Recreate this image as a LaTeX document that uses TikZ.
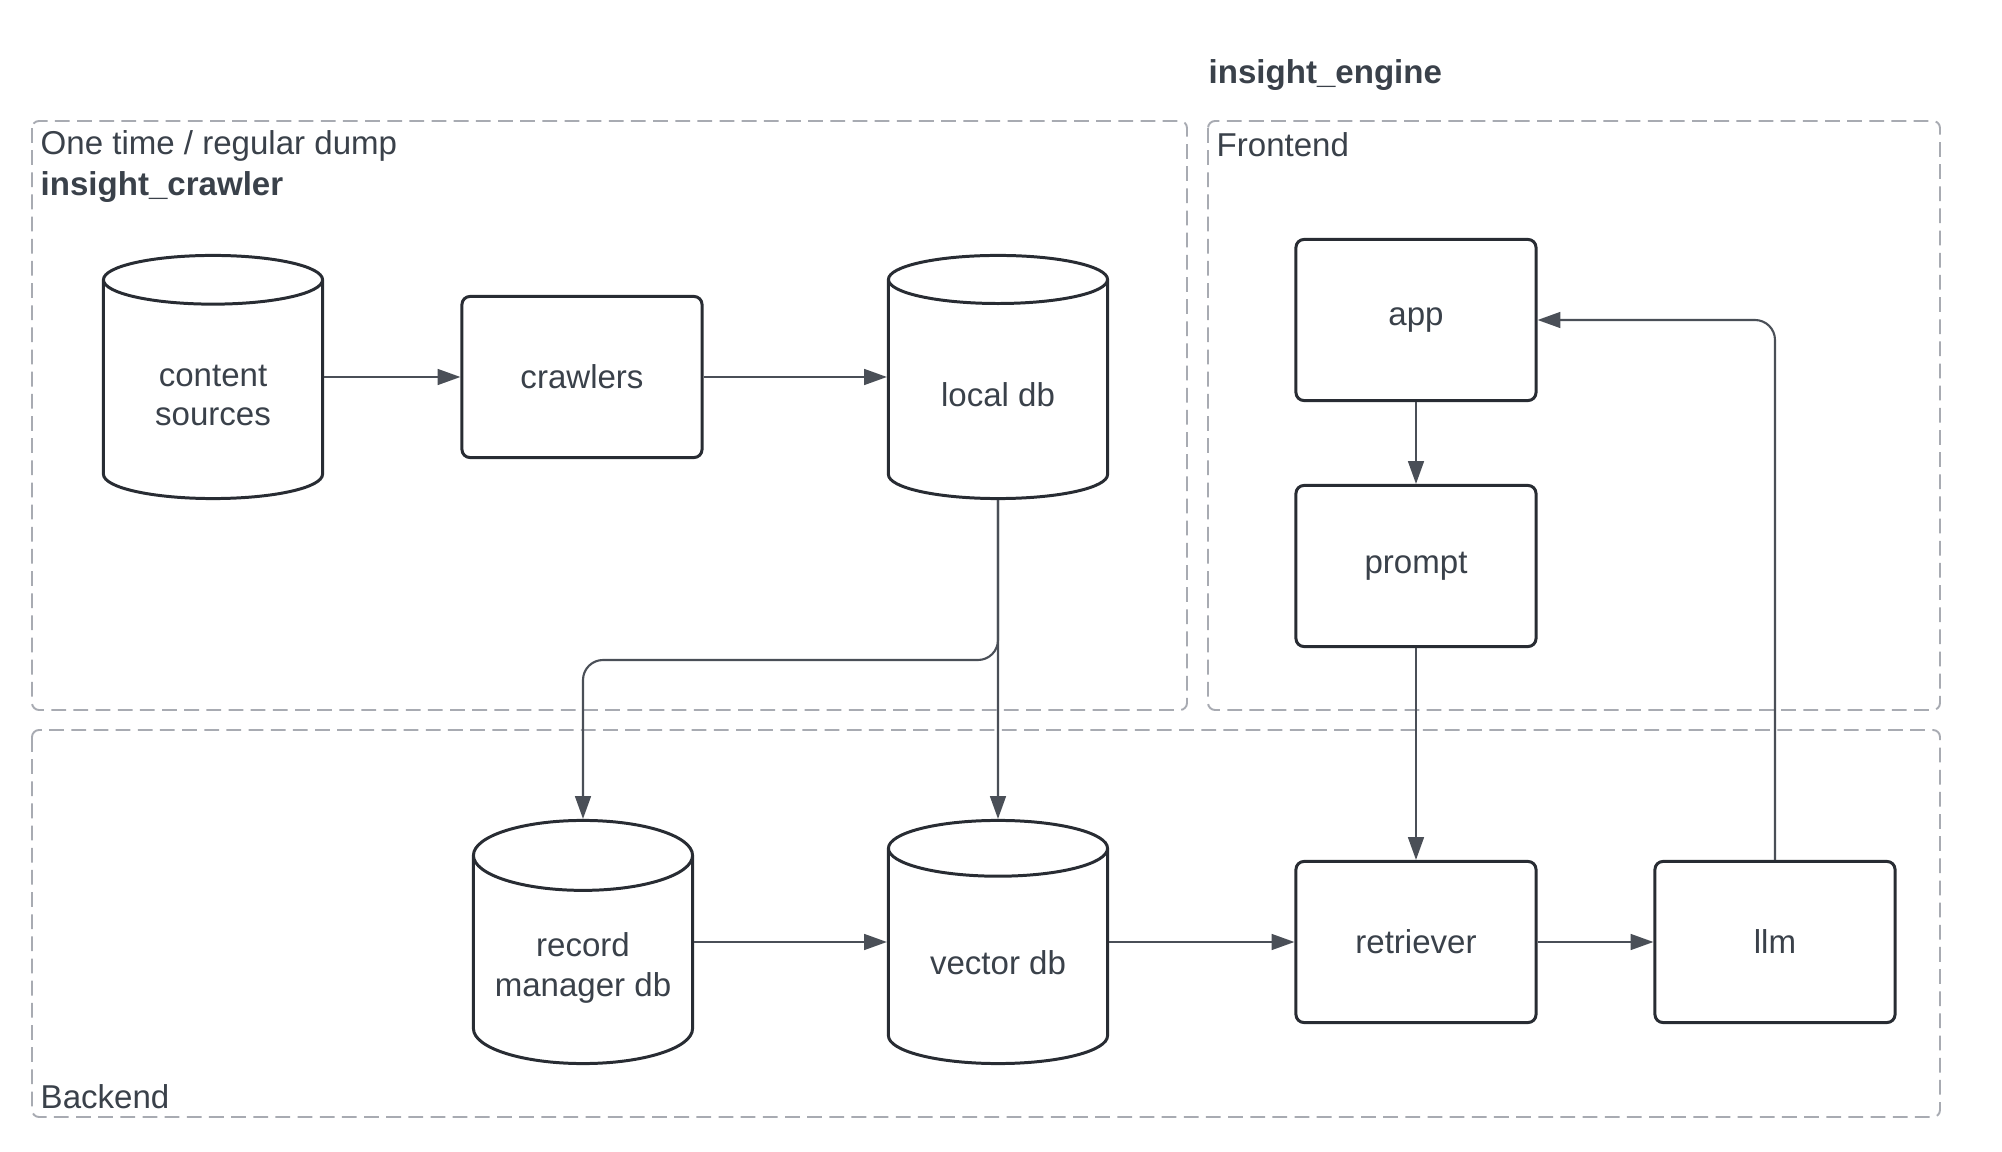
\documentclass[tikz,border=0pt]{standalone}
\usepackage{fontspec}
\setmainfont{Liberation Sans}
\usetikzlibrary{calc, positioning, arrows.meta, shapes.geometric}

\definecolor{inkgrey}{HTML}{3A414A}
\definecolor{linegrey}{HTML}{282C33}
\definecolor{conngrey}{HTML}{4A4F57}
\definecolor{dashgrey}{HTML}{A8ABB2}

\tikzset{
  group/.style={draw=dashgrey, line width=0.55pt, dash pattern=on 4.2pt off 2.1pt, rounded corners=2pt},
  grouplabel/.style={anchor=west, inner sep=0pt, text=inkgrey},
  block/.style={draw=linegrey, line width=0.85pt, rounded corners=2.3pt, minimum width=2.4cm, minimum height=1.61cm, text=inkgrey},
  dbcyl/.style={draw=linegrey, line width=0.85pt, cylinder, shape border rotate=90, aspect=0.35, anchor=shape center, minimum width=2.19cm, minimum height=2.43cm, text=inkgrey, align=center},
  conn/.style={draw=conngrey, line width=0.6pt, -{Triangle[length=6.5pt,width=4.5pt]}, rounded corners=0.2cm}
}

\begin{document}
\begin{tikzpicture}[x=0.01cm, y=-0.01cm, every node/.style={font=\fontsize{9.4}{11.3}\selectfont}]
  \useasboundingbox (0,0) rectangle (2002,1152);

  % groups
  \draw[group] (32,121) rectangle (1187,710);
  \draw[group] (1208,121) rectangle (1940,710);
  \draw[group] (32,730) rectangle (1940,1117);
  \node[grouplabel, font=\fontsize{9.4}{11.3}\selectfont\bfseries] (engine) at (1208,75) {insight\_engine};
  \node[grouplabel] (dump) at (40,146) {One time / regular dump};
  \node[grouplabel, font=\fontsize{9.4}{11.3}\selectfont\bfseries] (crawler) at (40,187) {insight\_crawler};
  \node[grouplabel] (front) at (1216,145) {Frontend};
  \node[grouplabel] (back) at (40,1097) {Backend};

  % crawler side
  \node[dbcyl] (src) at (213,377) {content\\sources};
  \node[block] (crawl) at (582,377) {crawlers};
  \node[dbcyl] (local) at (998,377) {local db};

  % backend
  \node[dbcyl] (rec) at (583,942) {record\\manager db};
  \node[dbcyl] (vec) at (998,942) {vector db};
  \node[block] (ret) at (1416,942) {retriever};
  \node[block] (llm) at (1775,942) {llm};

  % frontend
  \node[block] (app) at (1416,320) {app};
  \node[block] (prompt) at (1416,566) {prompt};

  \coordinate (bend) at (583,660);

  \draw[conn] (src.east |- crawl.west) -- (crawl.west);
  \draw[conn] (crawl.east) -- (local.west |- crawl.east);
  \draw[conn] (local.south) -- (vec.north);
  \draw[conn] (local.south) |- (bend) -- (rec.north);
  \draw[conn] (rec.east |- ret.west) -- (vec.west |- ret.west);
  \draw[conn] (vec.east |- ret.west) -- (ret.west);
  \draw[conn] (ret.east) -- (llm.west);
  \draw[conn] (app.south) -- (prompt.north);
  \draw[conn] (prompt.south) -- (ret.north);
  \draw[conn] (llm.north) |- (app.east);
\end{tikzpicture}
\end{document}
